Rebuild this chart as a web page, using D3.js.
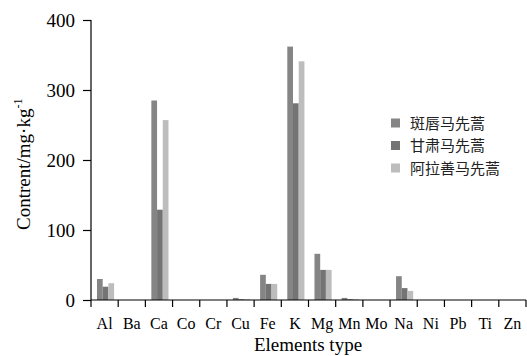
<!DOCTYPE html>
<html>
<head>
<meta charset="utf-8">
<script src="https://cdn.jsdelivr.net/npm/d3@7"></script>
<style>
  body { margin: 0; background: #fff; }
  svg { display: block; }
</style>
</head>
<body>
<svg id="chart" width="527" height="356"></svg>
<script>
// data
var elements = ["Al", "Ba", "Ca", "Co", "Cr", "Cu", "Fe", "K", "Mg", "Mn", "Mo", "Na", "Ni", "Pb", "Ti", "Zn"];
var seriesNames = ["斑唇马先蒿", "甘肃马先蒿", "阿拉善马先蒿"];
var banchun = [30, 0, 285, 0, 0, 3, 36, 362, 66, 3, 0, 34, 0, 0, 0, 0];
var gansu   = [19, 0, 129, 0, 0, 1, 23, 281, 43, 1, 0, 17, 0, 0, 0, 0];
var alashan = [24, 0, 257, 0, 0, 1, 23, 341, 43, 1, 0, 13, 0, 0, 0, 0];
var yTicks = [0, 100, 200, 300, 400];
var colors = ["#858585", "#747474", "#bdbdbd"];

(function() {
var svg = d3.select("#chart");
var serif = "'Liberation Serif', 'Times New Roman', serif";
var cjk = "'Noto Sans CJK SC', sans-serif";

var plotL = 91, plotR = 526, plotT = 20, plotB = 300;

var x0 = d3.scaleBand().domain(elements).range([plotL, plotR]).padding(0);
var x1 = d3.scaleBand().domain([0, 1, 2])
    .range([x0.bandwidth() * 0.22, x0.bandwidth() * 0.85]).padding(0);
var y = d3.scaleLinear().domain([0, 400]).range([plotB, plotT]);

var allSeries = [banchun, gansu, alashan];

// bars
var groups = svg.selectAll("g.grp")
    .data(elements)
    .enter().append("g")
    .attr("class", "grp")
    .attr("transform", function(d) { return "translate(" + x0(d) + ",0)"; });

groups.selectAll("rect")
    .data(function(d, i) { return allSeries.map(function(s, k) { return {k: k, v: s[i]}; }); })
    .enter().append("rect")
    .attr("x", function(d) { return x1(d.k); })
    .attr("width", x1.bandwidth())
    .attr("y", function(d) { return y(d.v); })
    .attr("height", function(d) { return plotB - y(d.v); })
    .attr("fill", function(d) { return colors[d.k]; });

// y axis
var yAxis = svg.append("g")
    .attr("transform", "translate(" + plotL + ",0)")
    .call(d3.axisLeft(y).tickValues(yTicks).tickSize(8).tickPadding(8));
yAxis.select(".domain").attr("d", "M0," + plotT + "V" + plotB);
yAxis.selectAll("text").attr("font-family", serif).attr("font-size", 19).attr("fill", "#000");
yAxis.selectAll("line, path").attr("stroke", "#000").attr("stroke-width", 1.2);

// x axis: ticks on band edges, labels in the middle
var xg = svg.append("g");
xg.append("line")
    .attr("x1", plotL).attr("x2", plotR)
    .attr("y1", plotB).attr("y2", plotB)
    .attr("stroke", "#000").attr("stroke-width", 1.2);
var edges = elements.map(function(d) { return x0(d); }).concat([plotR]);
xg.selectAll("line.tk")
    .data(edges)
    .enter().append("line")
    .attr("class", "tk")
    .attr("x1", function(d) { return d; }).attr("x2", function(d) { return d; })
    .attr("y1", plotB).attr("y2", plotB + 7)
    .attr("stroke", "#000").attr("stroke-width", 1.2);
xg.selectAll("text")
    .data(elements)
    .enter().append("text")
    .attr("x", function(d) { return x0(d) + x0.bandwidth() / 2; })
    .attr("y", plotB + 29)
    .attr("text-anchor", "middle")
    .attr("font-family", serif)
    .attr("font-size", 16)
    .text(function(d) { return d; });

// axis titles
svg.append("text")
    .attr("x", 308).attr("y", 351)
    .attr("text-anchor", "middle")
    .attr("font-family", serif).attr("font-size", 19)
    .text("Elements type");

var yt = svg.append("text")
    .attr("transform", "translate(30,230) rotate(-90)")
    .attr("font-family", serif).attr("font-size", 19);
yt.append("tspan").text("Contrent/mg·kg");
yt.append("tspan").attr("font-size", 12).attr("dy", -8).text("-1");

// legend
var legend = svg.selectAll("g.leg")
    .data(seriesNames)
    .enter().append("g")
    .attr("class", "leg")
    .attr("transform", function(d, i) { return "translate(391," + (123 + i * 22.5) + ")"; });
legend.append("rect")
    .attr("x", 0).attr("y", -4.5)
    .attr("width", 9).attr("height", 9)
    .attr("fill", function(d, i) { return colors[i]; });
legend.append("text")
    .attr("x", 19).attr("y", 5.5)
    .attr("font-family", cjk).attr("font-size", 15)
    .attr("fill", "#222")
    .text(function(d) { return d; });
})();
</script>
</body>
</html>
